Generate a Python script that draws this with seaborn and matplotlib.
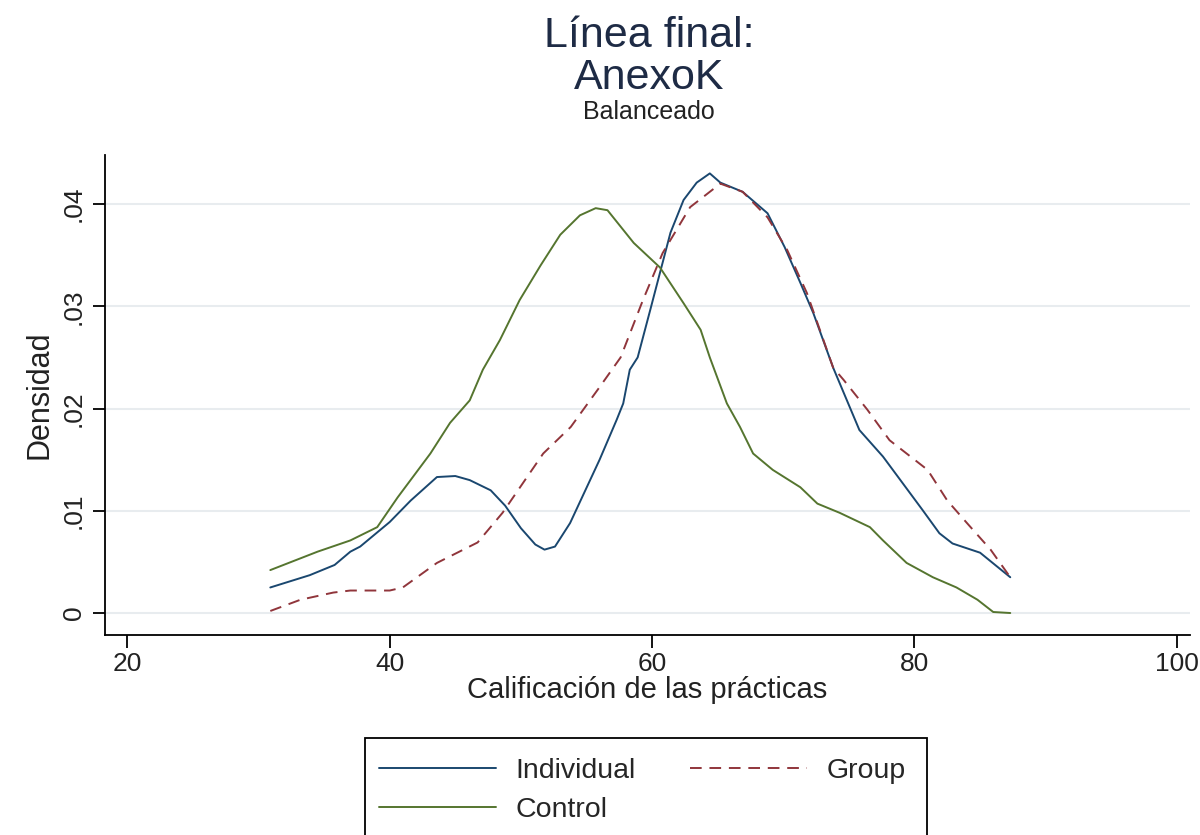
import matplotlib
matplotlib.use("Agg")
import matplotlib.pyplot as plt
from matplotlib.lines import Line2D
from matplotlib.patches import Rectangle
import seaborn as sns
import pandas as pd

# Kernel density estimates of the final practice grade, by treatment arm
ind_x = [30.9, 33.9, 35.8, 37.0, 37.75, 40.0, 41.6, 43.6, 45.0, 46.1, 47.7, 48.8, 50.0,
         51.1, 51.8, 52.6, 53.75, 56.0, 57.3, 57.8, 58.3, 58.9, 59.85, 61.4, 62.4, 63.4,
         64.4, 65.2, 66.9, 68.8, 70.1, 71.3, 72.3, 73.8, 75.8, 77.6, 79.1, 80.6, 81.9,
         82.9, 85.0, 87.3]
ind_y = [0.0025, 0.0037, 0.0047, 0.0060, 0.0065, 0.0089, 0.0110, 0.0133, 0.0134, 0.0130,
         0.0120, 0.0105, 0.0083, 0.0067, 0.0062, 0.0065, 0.0088, 0.0150, 0.0189, 0.0205,
         0.0238, 0.0250, 0.0296, 0.0372, 0.0404, 0.0421, 0.0430, 0.0421, 0.0412, 0.0391,
         0.0358, 0.0323, 0.0293, 0.0240, 0.0179, 0.0153, 0.0127, 0.0101, 0.0078, 0.0068,
         0.0059, 0.0035]

grp_x = [30.9, 33.2, 35.7, 37.0, 40.0, 41.0, 43.6, 46.7, 48.6, 51.7, 53.8, 56.0, 57.6,
         59.3, 60.8, 62.9, 65.2, 66.9, 68.8, 70.3, 71.8, 73.8, 74.6, 76.4, 78.1, 79.4,
         81.0, 82.5, 84.0, 85.8, 87.3]
grp_y = [0.0002, 0.0013, 0.0020, 0.0022, 0.0022, 0.0025, 0.0049, 0.0069, 0.0098, 0.0156,
         0.0182, 0.0221, 0.0250, 0.0306, 0.0352, 0.0397, 0.0420, 0.0412, 0.0387, 0.0355,
         0.0313, 0.0240, 0.0228, 0.0199, 0.0169, 0.0156, 0.0140, 0.0110, 0.0088, 0.0062,
         0.0035]

ctl_x = [30.9, 34.5, 37.0, 39.05, 40.6, 43.1, 44.6, 46.1, 47.1, 48.4, 49.9, 51.5, 53.0,
         54.5, 55.7, 56.6, 58.6, 60.6, 62.4, 63.7, 64.4, 65.7, 66.7, 67.7, 69.2, 71.3,
         72.6, 74.3, 76.6, 77.6, 79.4, 81.4, 83.2, 84.8, 86.0, 87.3]
ctl_y = [0.0042, 0.0060, 0.0071, 0.0084, 0.0113, 0.0156, 0.0186, 0.0208, 0.0238, 0.0267,
         0.0306, 0.0340, 0.0370, 0.0389, 0.0396, 0.0394, 0.0362, 0.0338, 0.0303, 0.0277,
         0.0250, 0.0205, 0.0182, 0.0156, 0.0140, 0.0123, 0.0107, 0.0098, 0.0084, 0.0071,
         0.0049, 0.0035, 0.0025, 0.0013, 0.0001, 0.0000]

series_names = ["Individual", "Group", "Control"]
x_ticks = [20, 40, 60, 80, 100]
y_ticks = [0, 0.01, 0.02, 0.03, 0.04]
y_tick_labels = ["0", ".01", ".02", ".03", ".04"]

sns.set_theme(style="white")
plt.rcParams["font.family"] = ["Liberation Sans", "DejaVu Sans"]

frames = []
for name, xs, ys in zip(series_names, [ind_x, grp_x, ctl_x], [ind_y, grp_y, ctl_y]):
    frames.append(pd.DataFrame({"x": xs, "y": ys, "grupo": name}))
df = pd.concat(frames, ignore_index=True)

palette = {"Individual": "#1a476f", "Group": "#90353b", "Control": "#55752f"}
styles = {"Individual": "", "Group": (6, 4), "Control": ""}

fig = plt.figure(figsize=(12, 8.35), dpi=100)
fig.patch.set_facecolor("white")
ax = fig.add_axes([105 / 1200, 1 - 635 / 835, (1190 - 105) / 1200, (635 - 155) / 835])

sns.lineplot(data=df, x="x", y="y", hue="grupo", style="grupo", palette=palette,
             dashes=styles, sort=False, estimator=None, linewidth=1.4, ax=ax, legend=False)

ax.set_xlim(18.3, 101.0)
ax.set_ylim(-0.00215, 0.0448)
ax.set_xticks(x_ticks)
ax.set_xticklabels([str(v) for v in x_ticks], fontsize=19)
ax.set_yticks(y_ticks)
ax.set_yticklabels(y_tick_labels, fontsize=19, rotation=90, va="center")
for y in y_ticks:
    ax.axhline(y, color="#e8ecef", linewidth=1.5, zorder=0)

for side in ["top", "right"]:
    ax.spines[side].set_visible(False)
for side in ["left", "bottom"]:
    ax.spines[side].set_color("black")
    ax.spines[side].set_linewidth(1.3)
ax.tick_params(axis="both", direction="out", length=9, width=1.3, color="black",
               labelcolor="#222222", bottom=True, left=True)
ax.tick_params(axis="x", pad=3)
ax.tick_params(axis="y", pad=5)

ax.set_xlabel("Calificación de las prácticas", fontsize=21, color="#222222", labelpad=0)
ax.set_ylabel("Densidad", fontsize=22, color="#222222")
ax.yaxis.set_label_coords(-0.047, 0.5)

fig.text(0.541, 1 - 36 / 835, "Línea final:", ha="center", va="center", fontsize=31, color="#1e2b45")
fig.text(0.541, 1 - 78 / 835, "AnexoK", ha="center", va="center", fontsize=31, color="#1e2b45")
fig.text(0.541, 1 - 112 / 835, "Balanceado", ha="center", va="center", fontsize=18, color="#222222")

handles = [Line2D([0], [0], color=palette["Individual"], lw=1.4),
           Line2D([0], [0], color=palette["Control"], lw=1.4),
           Line2D([0], [0], color=palette["Group"], lw=1.4, dashes=(6, 4))]
labels = ["Individual", "Control", "Group"]
fig.legend(handles, labels, ncol=2, frameon=False, fontsize=20.5,
           loc="upper left", bbox_to_anchor=(379 / 1200, 1 - 758 / 835),
           handlelength=4.1, handletextpad=0.7, columnspacing=1.9, labelspacing=0.46,
           borderpad=0.0, borderaxespad=0.0)
fig.patches.append(Rectangle((365 / 1200, -0.05), (927 - 365) / 1200, 0.05 + (835 - 738) / 835,
                             transform=fig.transFigure, fill=False, edgecolor="black",
                             linewidth=1.3))

fig.savefig("out.png", dpi=100, facecolor="white")
